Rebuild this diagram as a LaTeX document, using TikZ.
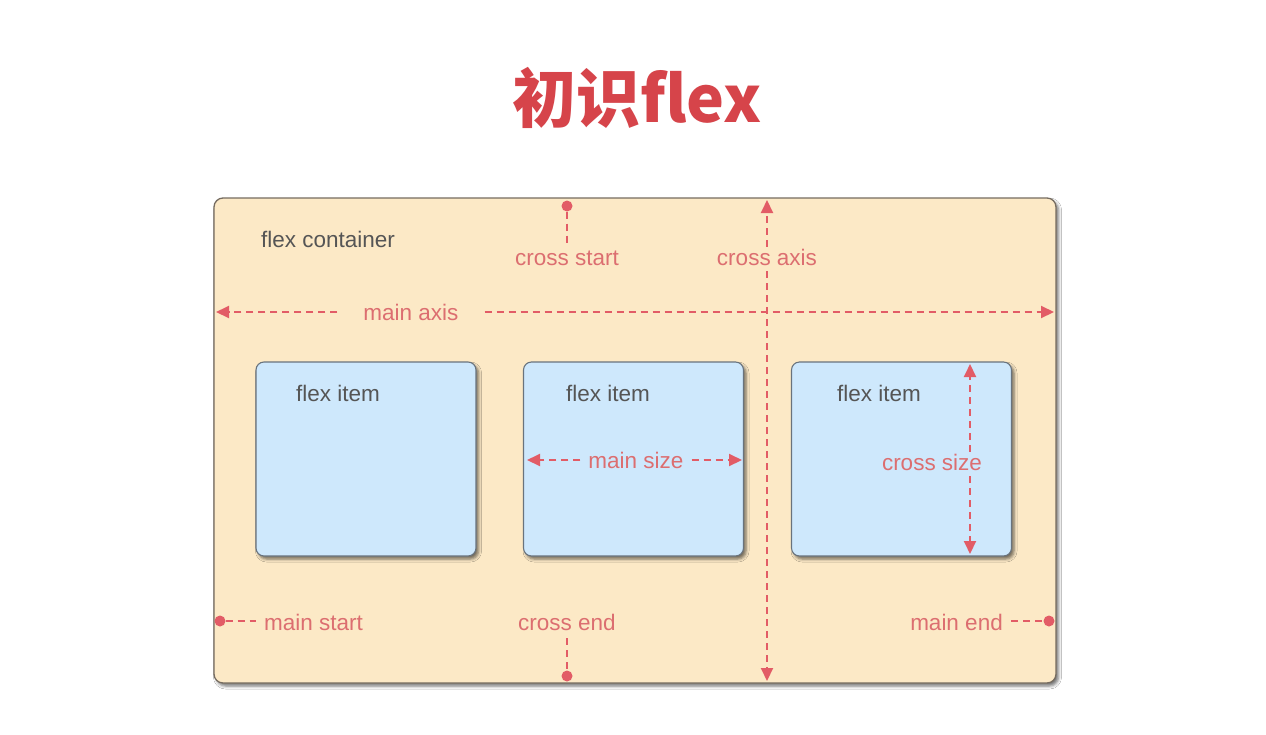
\documentclass[tikz,border=0pt]{standalone}
\usepackage{fontspec}
\setmainfont{Liberation Sans}
\newfontfamily\cjk{Noto Sans CJK SC}
\usetikzlibrary{arrows.meta,shadows.blur,calc}
\definecolor{titlered}{RGB}{214,68,74}
\definecolor{axisred}{RGB}{226,92,102}
\definecolor{labelred}{RGB}{220,110,112}
\definecolor{contfill}{RGB}{252,233,198}
\definecolor{contdraw}{RGB}{118,108,96}
\definecolor{itemfill}{RGB}{206,232,252}
\definecolor{itemdraw}{RGB}{105,115,125}
\definecolor{darktext}{RGB}{85,85,85}
\tikzset{
  container/.style={draw=contdraw, line width=1.3pt, fill=contfill, rounded corners=9pt,
    minimum width=842pt, minimum height=485pt, inner sep=0pt,
    blur shadow={shadow xshift=2.5pt, shadow yshift=-3pt, shadow blur radius=3pt, shadow opacity=55}},
  itembox/.style={draw=itemdraw, line width=1.1pt, fill=itemfill, rounded corners=8pt,
    minimum width=220pt, minimum height=194pt, inner sep=0pt,
    blur shadow={shadow xshift=2.5pt, shadow yshift=-3pt, shadow blur radius=3pt, shadow opacity=55}},
  darklabel/.style={text=darktext, font=\fontsize{22.5}{26}\selectfont, inner sep=0pt},
  redlabel/.style={text=labelred, font=\fontsize{22.5}{26}\selectfont, text height=17pt, text depth=5pt, inner sep=3pt},
  axisline/.style={draw=axisred, line width=2pt, dash pattern=on 7pt off 5pt},
  tip/.style={-{Triangle[length=13pt,width=12pt]}},
  reddot/.style={circle, fill=axisred, inner sep=0pt, minimum size=11pt},
}
\begin{document}
\begin{tikzpicture}[x=1pt,y=-1pt]
\useasboundingbox (0,0) rectangle (1266,734);
\fill[white] (0,0) rectangle (1266,734);

\node[text=titlered, font=\cjk\bfseries\fontsize{64}{70}\selectfont, inner sep=0pt] (title) at (637,98) {初识flex};

\node[container] (cont) at (635,440.5) {};
\node[itembox] (item1) at (366,459) {};
\node[itembox] (item2) at (633.5,459) {};
\node[itembox] (item3) at (901.5,459) {};

\node[darklabel] (contlabel) at (328,239) {flex container};
\node[darklabel] (it1label) at (338,393) {flex item};
\node[darklabel] (it2label) at (608,393) {flex item};
\node[darklabel] (it3label) at (879,393) {flex item};

% cross start
\node[reddot] (csdot) at (567,206) {};
\node[redlabel] (cs) at (567,259) {cross start};
\draw[axisline] (csdot) -- (cs.north);

% cross axis
\coordinate (caT) at (767,200);
\coordinate (caB) at (767,681);
\node[redlabel, inner ysep=1pt] (ca) at (767,259) {cross axis};
\draw[axisline,tip] (ca.north) -- (caT);
\draw[axisline,tip] (ca.south) -- (caB);

% main axis
\coordinate (maL) at (216,312);
\coordinate (maR) at (1054,312);
\node[redlabel, inner xsep=26pt] (ma) at (411,314) {main axis};
\draw[axisline,tip] (ma.west |- maL) -- (maL);
\draw[axisline,tip] (ma.east |- maR) -- (maR);

% main size
\coordinate (mszL) at (527,460);
\coordinate (mszR) at (742,460);
\node[redlabel, inner xsep=8pt] (msz) at (636,462) {main size};
\draw[axisline,tip] (msz.west |- mszL) -- (mszL);
\draw[axisline,tip] (msz.east |- mszR) -- (mszR);

% cross size
\coordinate (cszT) at (970,364);
\coordinate (cszB) at (970,554);
\node[redlabel, inner ysep=1pt] (csz) at (932,464) {cross size};
\draw[axisline,tip] (csz.north -| cszT) -- (cszT);
\draw[axisline,tip] (csz.south -| cszB) -- (cszB);

% main start
\node[reddot] (msdot) at (220,621) {};
\node[redlabel, inner xsep=8pt, anchor=west] (ms) at (256,624) {main start};
\draw[axisline] (msdot) -- (ms.west |- msdot);

% cross end
\node[reddot] (cedot) at (567,676) {};
\node[redlabel] (ce) at (567,624) {cross end};
\draw[axisline] (ce.south) -- (cedot);

% main end
\node[reddot] (medot) at (1049,621) {};
\node[redlabel, inner xsep=8pt, anchor=east] (me) at (1011,624) {main end};
\draw[axisline] (me.east |- medot) -- (medot);
\end{tikzpicture}
\end{document}
